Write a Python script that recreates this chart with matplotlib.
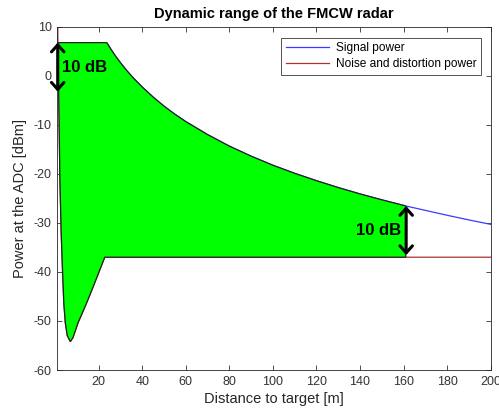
import numpy as np
import matplotlib
matplotlib.use("Agg")
import matplotlib.pyplot as plt

plt.rcParams['font.family'] = ['Liberation Sans', 'DejaVu Sans']
plt.rcParams['axes.unicode_minus'] = False

# Signal power at the ADC [dBm] vs distance [m]
signal_dist = [1.0, 5, 10, 15, 20, 23.7, 26, 28, 30, 33, 36, 40, 45, 50, 55, 60, 70,
               80, 90, 100, 110, 120, 130, 140, 150, 161, 170, 180, 190, 200]
signal_dbm = [6.75, 6.75, 6.75, 6.75, 6.75, 6.75, 5.15, 3.85, 2.65, 1.0, -0.5, -2.3,
              -4.35, -6.2, -7.85, -9.35, -12.0, -14.35, -16.4, -18.25, -19.9, -21.4,
              -22.8, -24.1, -25.3, -26.55, -27.45, -28.45, -29.4, -30.3]

# Noise and distortion power [dBm] vs distance [m]
noise_dist = [1.0, 1.3, 1.7, 2.2, 2.8, 3.4, 4.0, 4.7, 5.6, 7.0, 8.2, 10.5, 14.4,
              17.5, 20.5, 22.8, 200]
noise_dbm = [20, 6.75, -5, -21, -32, -39.6, -46.4, -50.4, -53, -54.2, -53.4, -50.4,
             -46.4, -43, -39.6, -37, -37]

fill_range = [1.3, 161]
annot_left_x = 1.2
annot_right_x = 161.2
annot_db = 10

fig = plt.figure(figsize=(4.99, 4.17), dpi=100)
ax = fig.add_axes([0.1148, 0.1127, 0.8685, 0.8233])

ax.plot(signal_dist, signal_dbm, color='#3a3aff', lw=0.9, label='Signal power')
ax.plot(noise_dist, noise_dbm, color='#b03030', lw=0.9, label='Noise and distortion power')

# fill between the curves within the range
xs = np.union1d(signal_dist, noise_dist)
xs = xs[(xs >= fill_range[0]) & (xs <= fill_range[1])]
xs = np.union1d(xs, fill_range)
top = np.interp(xs, signal_dist, signal_dbm)
bot = np.interp(xs, noise_dist, noise_dbm)
ax.fill(np.concatenate([xs, xs[::-1]]), np.concatenate([top, bot[::-1]]),
        facecolor='#00ff00', edgecolor='#222222', lw=0.9, zorder=3)

# 10 dB annotations
sl = np.interp(annot_left_x, signal_dist, signal_dbm)
sr = np.interp(annot_right_x, signal_dist, signal_dbm)
aprops = dict(arrowstyle='<->,head_length=0.5,head_width=0.45', lw=2.2, color='black',
              shrinkA=0, shrinkB=0)
ax.annotate('', xy=(annot_left_x, sl - annot_db), xytext=(annot_left_x, sl),
            arrowprops=aprops, zorder=5, annotation_clip=False)
ax.annotate('', xy=(annot_right_x, sr - annot_db), xytext=(annot_right_x, sr),
            arrowprops=aprops, zorder=5)
ax.text(3.0, sl - annot_db / 2, '10 dB', fontsize=12, fontweight='bold',
        ha='left', va='center', zorder=6)
ax.text(159, sr - annot_db / 2, '10 dB', fontsize=12, fontweight='bold',
        ha='right', va='center', zorder=6)

ax.set_xlim(1, 200)
ax.set_ylim(-60, 10)
ax.set_xticks(np.arange(20, 201, 20))
ax.set_yticks(np.arange(-60, 11, 10))
ax.tick_params(direction='in', top=True, right=True, labelsize=9, colors='#333333',
               length=3.5, width=0.6, pad=4)
for s in ax.spines.values():
    s.set_color('#262626')
    s.set_linewidth(0.6)

ax.set_title('Dynamic range of the FMCW radar', fontsize=10.5, fontweight='bold', pad=6)
ax.set_xlabel('Distance to target [m]', fontsize=10.5, color='#262626', labelpad=3)
ax.set_ylabel('Power at the ADC [dBm]', fontsize=10.5, color='#262626', labelpad=5)

leg = ax.legend(loc='upper right', fontsize=8.6, frameon=True, fancybox=False,
                handlelength=3.6, handletextpad=0.6, borderpad=0.4, labelspacing=0.3,
                bbox_to_anchor=(0.978, 0.968), borderaxespad=0)
leg.get_frame().set_edgecolor('#262626')
leg.get_frame().set_linewidth(0.7)
leg.set_zorder(10)

fig.savefig('out.png', dpi=100)
